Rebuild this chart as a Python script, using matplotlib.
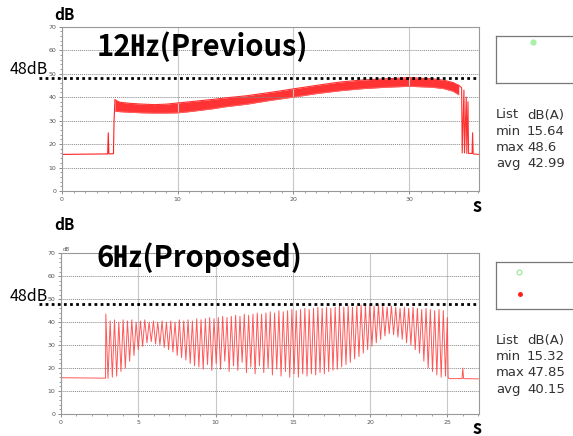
import matplotlib.pyplot as plt
import numpy as np
from matplotlib.ticker import MultipleLocator

plt.rcParams['font.family'] = ['Noto Sans CJK KR', 'DejaVu Sans']

# Data - top panel (12Hz, previous): step-up, dense band, drop-off
prev_lead_t = [0, 3.95, 4.0, 4.05, 4.1, 4.45, 4.5, 4.58]
prev_lead_db = [15.6, 15.8, 24.8, 16.0, 15.8, 15.9, 30.0, 38.8]
prev_band_t = [4.58, 5, 6, 7, 8, 9, 10, 11, 12, 13, 14, 16, 18, 20, 22, 24, 26, 28, 30, 32, 33, 33.8, 34.3]
prev_band_hi = [38.8, 37.8, 37.3, 37.0, 36.8, 37.0, 37.5, 38.0, 38.5, 39.0, 39.6, 40.6, 42.0, 43.5,
                45.0, 46.4, 47.3, 47.8, 48.3, 47.8, 47.2, 46.2, 45.0]
prev_band_lo = [34.0, 33.8, 33.5, 33.3, 33.2, 33.2, 33.3, 33.8, 34.4, 35.0, 35.8, 37.0, 38.6, 40.0,
                41.5, 42.7, 43.6, 44.2, 44.6, 44.2, 43.6, 42.5, 41.0]
prev_tail_t = [34.3, 34.55, 34.6, 34.75, 34.8, 34.95, 35.0, 35.1, 35.15, 35.45, 35.5, 35.55, 36.0]
prev_tail_db = [45.0, 44.0, 16.2, 43.0, 16.2, 40.0, 16.0, 38.0, 16.0, 16.0, 24.8, 15.8, 15.6]

# Data - bottom panel (6Hz, proposed): spike peaks and troughs
prop_lead_t = [0, 2.6, 2.88]
prop_lead_db = [15.8, 15.6, 15.6]
prop_t0, prop_dt = 2.9, 0.28
prop_peaks = [43.5, 40.5, 41.0, 40.0, 41.0, 40.5, 41.0, 40.0, 40.5, 41.0,
              40.0, 40.5, 40.0, 40.5, 40.0, 40.5, 40.0, 41.0, 40.5, 41.0,
              40.5, 41.5, 41.0, 41.5, 42.0, 41.5, 42.0, 42.5, 42.0, 42.5,
              43.0, 42.5, 43.5, 43.0, 43.5, 44.0, 43.5, 44.0, 44.5, 44.0,
              45.0, 44.5, 45.0, 45.5, 45.0, 45.5, 46.0, 45.5, 46.0, 46.5,
              46.0, 46.5, 46.0, 46.5, 47.0, 46.5, 47.0, 46.5, 47.0, 47.5,
              47.0, 47.5, 47.0, 47.5, 47.0, 46.5, 47.0, 46.5, 46.0, 46.5,
              46.0, 46.5, 46.0, 45.5, 46.0, 45.5, 45.0, 45.5, 45.0]
prop_troughs = [15.5, 16.0, 16.5, 18.5, 20.0, 23.0, 25.5, 28.0, 29.5, 31.0,
                31.5, 30.5, 30.0, 29.0, 28.0, 27.0, 25.5, 24.5, 23.5, 22.0,
                21.0, 20.5, 19.5, 21.5, 19.0, 22.0, 19.5, 23.0, 18.5, 21.0,
                19.0, 22.5, 18.0, 20.5, 17.5, 21.0, 18.0, 20.0, 17.0, 19.5,
                16.5, 18.5, 16.0, 17.5, 16.0, 17.5, 16.5, 17.5, 17.0, 18.0,
                17.5, 18.5, 19.0, 19.5, 20.5, 21.5, 22.5, 24.0, 25.0, 26.5,
                28.0, 29.5, 31.0, 32.5, 34.0, 35.0, 34.5, 33.5, 32.5, 31.0,
                30.0, 28.0, 26.5, 23.0, 20.0, 18.5, 17.0, 16.0, 16.5]
prop_tail_t = [25.0, 25.05, 25.1, 25.95, 26.0, 26.05, 27.0]
prop_tail_db = [42.0, 16.0, 15.4, 15.4, 20.0, 15.4, 15.3]

limit_db = 48
stats_prev = [('List', 'dB(A)'), ('min', '15.64'), ('max', '48.6'), ('avg', '42.99')]
stats_prop = [('List', 'dB(A)'), ('min', '15.32'), ('max', '47.85'), ('avg', '40.15')]

fig = plt.figure(figsize=(5.73, 4.36), dpi=100)
ax1 = fig.add_axes([0.1082, 0.5619, 0.7277, 0.3769])
ax2 = fig.add_axes([0.1065, 0.0505, 0.7295, 0.3686])


def style_axis(ax, xmax, xmajor):
    ax.set_xlim(0, xmax)
    ax.set_ylim(0, 70)
    ax.xaxis.set_major_locator(MultipleLocator(xmajor))
    ax.xaxis.set_minor_locator(MultipleLocator(1))
    ax.yaxis.set_major_locator(MultipleLocator(10))
    ax.yaxis.set_minor_locator(MultipleLocator(2))
    ax.tick_params(which='both', labelsize=4.5, labelcolor='#555555', color='#777777',
                   direction='out', pad=1.5)
    ax.tick_params(which='major', length=2.5, width=0.6)
    ax.tick_params(which='minor', length=1.5, width=0.5)
    ax.grid(True, axis='y', which='major', color='#888888', linestyle=(0, (1, 1)), linewidth=0.7)
    ax.grid(True, axis='x', which='major', color='#c8c8c8', linestyle='-', linewidth=0.8)
    for sp in ax.spines.values():
        sp.set_color('#999999')
        sp.set_linewidth(0.8)
    for lab in ax.get_xticklabels() + ax.get_yticklabels():
        lab.set_family('DejaVu Sans')


style_axis(ax1, 36.05, 10)
style_axis(ax2, 27.05, 5)

# Top panel
ax1.plot(prev_lead_t, prev_lead_db, color='#ff2020', linewidth=0.8)
ax1.fill_between(prev_band_t, prev_band_lo, prev_band_hi, color='#ff0000', alpha=0.8, linewidth=0)
ax1.plot(prev_band_t, prev_band_hi, color='#ff3030', linewidth=0.8)
ax1.plot(prev_band_t, prev_band_lo, color='#ff6060', linewidth=0.7)
ax1.plot(prev_tail_t, prev_tail_db, color='#ff3030', linewidth=0.8)

# Bottom panel: zigzag peak -> trough
spike_t = prop_t0 + prop_dt * np.arange(len(prop_peaks))
zig_t = np.ravel(np.column_stack([spike_t, spike_t + prop_dt / 2]))
zig_db = np.ravel(np.column_stack([prop_peaks, prop_troughs]))
ax2.plot(prop_lead_t + list(zig_t) + prop_tail_t,
         prop_lead_db + list(zig_db) + prop_tail_db,
         color='#ff3b3b', linewidth=0.7, alpha=0.85)

# 48 dB limit lines
ax1.plot([-2.0, 35.9], [limit_db, limit_db], color='black', linestyle=(0, (1, 1.2)),
         linewidth=2.0, clip_on=False)
ax2.plot([-1.42, 26.9], [limit_db, limit_db], color='black', linestyle=(0, (1, 1.2)),
         linewidth=2.0, clip_on=False)

# Titles and labels
fig.text(0.169, 0.893, '12\u3390(Previous)', fontsize=21, fontweight='bold',
         ha='left', va='center')
fig.text(0.169, 0.41, '6\u3390(Proposed)', fontsize=21, fontweight='bold',
         ha='left', va='center')
for ypix in (15, 225):
    fig.text(64 / 573, 1 - ypix / 436, 'dB', fontsize=11, fontweight='bold', ha='center', va='center')
for ypix in (70, 296):
    fig.text(29 / 573, 1 - ypix / 436, '48dB', fontsize=11.5, ha='center', va='center')
for ypix in (206, 428):
    fig.text(477 / 573, 1 - ypix / 436, 's', fontsize=13, fontweight='bold', ha='center', va='center')
fig.text(66 / 573, 1 - 249 / 436, 'dB', fontsize=4, color='#555555', ha='center', va='center',
         family='DejaVu Sans')

# Legend boxes on the right
box1 = fig.add_axes([496 / 573, 1 - 83 / 436, 0.2, 47 / 436])
box2 = fig.add_axes([496 / 573, 1 - 309 / 436, 0.2, 47 / 436])
for box in (box1, box2):
    box.set_xlim(0, 1)
    box.set_ylim(0, 1)
    box.set_xticks([])
    box.set_yticks([])
    for sp in box.spines.values():
        sp.set_color('#777777')
        sp.set_linewidth(0.9)
box1.plot([(533 - 496) / 114.6], [(83 - 42) / 47], 'o', color='#a8f0a8', markersize=3.5)
box2.plot([(519 - 496) / 114.6], [(309 - 272) / 47], 'o', markerfacecolor='none',
          markeredgecolor='#90e890', markersize=3.5, markeredgewidth=0.8)
box2.plot([(520 - 496) / 114.6], [(309 - 294) / 47], 'o', color='#ff1a1a', markersize=2.5)

# Stats text
for stats, rows_y in ((stats_prev, (115, 131, 147, 163)), (stats_prop, (340, 356, 372, 389))):
    for (name, val), ypix in zip(stats, rows_y):
        fig.text(496 / 573, 1 - ypix / 436, name, fontsize=9.5, color='#333333',
                 family='DejaVu Sans', ha='left', va='center')
        fig.text(527 / 573, 1 - ypix / 436, val, fontsize=9.5, color='#333333',
                 family='DejaVu Sans', ha='left', va='center')

plt.savefig('out.png', dpi=100)
